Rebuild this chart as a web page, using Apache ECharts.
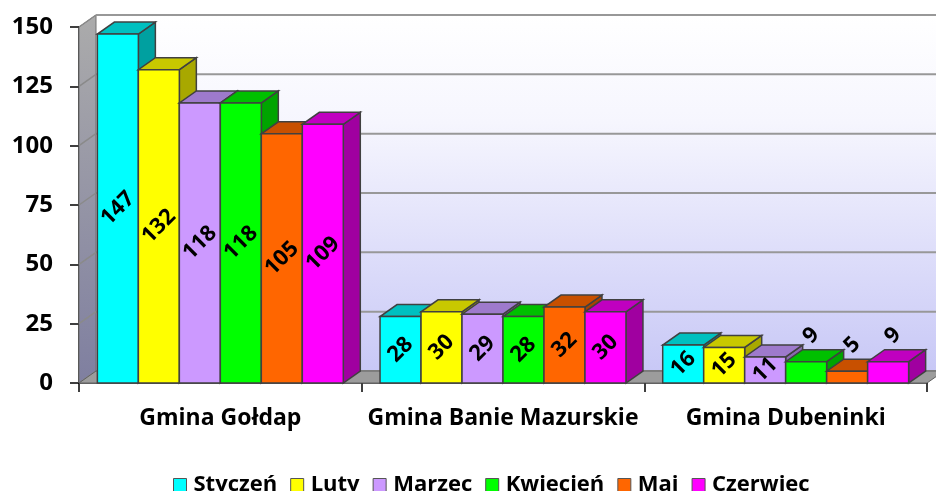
<!DOCTYPE html>
<html>
<head>
<meta charset="utf-8">
<script src="https://cdn.jsdelivr.net/npm/echarts@6/dist/echarts.min.js"></script>
<style>html,body{margin:0;padding:0;background:#fff;}#c{width:936px;height:491px;}</style>
</head>
<body>
<div id="c"></div>
<script>
// ---- data ----
const categories = ['Gmina Gołdap', 'Gmina Banie Mazurskie', 'Gmina Dubeninki'];
const months = ['Styczeń', 'Luty', 'Marzec', 'Kwiecień', 'Maj', 'Czerwiec'];
const styczen  = [147, 28, 16];
const luty     = [132, 30, 15];
const marzec   = [118, 29, 11];
const kwiecien = [118, 28, 9];
const maj      = [105, 32, 5];
const czerwiec = [109, 30, 9];
const yTickValues = [0, 25, 50, 75, 100, 125, 150];

const seriesValues = [styczen, luty, marzec, kwiecien, maj, czerwiec];
const faceColors = [
  {front:'#00FFFF', top:'#00C0C0', side:'#00A0A0'},
  {front:'#FFFF00', top:'#C8C800', side:'#A8A800'},
  {front:'#CC99FF', top:'#9E7ACC', side:'#8A68B0'},
  {front:'#00FF00', top:'#00C000', side:'#00A400'},
  {front:'#FF6600', top:'#C85000', side:'#A84400'},
  {front:'#FF00FF', top:'#C000C0', side:'#A000A0'}
];
const DX = 17, DY = -12;
const EDGE = '#404040';
const FONT = '"Open Sans", Lato, sans-serif';

function frameRender(params, api) {
  const cs = params.coordSys;
  const xL = cs.x, xR = cs.x + cs.width;
  const y0 = api.coord([0, 0])[1];
  const yMax = api.coord([0, yTickValues[yTickValues.length - 1]])[1];
  const children = [];
  children.push({type:'polygon', shape:{points:[[xL+DX,yMax+DY],[xR+DX+40,yMax+DY],[xR+DX+40,y0+DY],[xL+DX,y0+DY]]},
    style:{fill:new echarts.graphic.LinearGradient(0,0,0,1,[{offset:0,color:'#ffffff'},{offset:0.3,color:'#f6f6fe'},{offset:1,color:'#c8c8f6'}])}});
  children.push({type:'polygon', shape:{points:[[xL,yMax],[xL+DX,yMax+DY],[xL+DX,y0+DY],[xL,y0]]},
    style:{fill:new echarts.graphic.LinearGradient(0,0,0,1,[{offset:0,color:'#ababab'},{offset:1,color:'#7f7fa0'}]), stroke:'#707070', lineWidth:1}});
  yTickValues.forEach(v => {
    const y = api.coord([0, v])[1];
    children.push({type:'line', shape:{x1:xL+DX, y1:y+DY, x2:xR+DX+40, y2:y+DY}, style:{stroke:'#989898', lineWidth:2}});
    children.push({type:'line', shape:{x1:xL, y1:y, x2:xL+DX, y2:y+DY}, style:{stroke:'#8a8a8a', lineWidth:1.5}});
  });
  children.push({type:'polygon', shape:{points:[[xL,y0],[xL+DX,y0+DY],[xR+DX,y0+DY],[xR,y0]]},
    style:{fill:'#9c9c9c', stroke:'#606060', lineWidth:1}});
  return {type:'group', children};
}

function makeBarRender(s) {
  return function(params, api) {
    const ci = api.value(0), v = api.value(1);
    const base = api.coord([ci, 0]);
    const top = api.coord([ci, v]);
    const catW = api.size([1, 0])[0];
    const bw = catW * 0.87 / 6;
    const x0 = base[0] + (s - 3) * bw, x1 = x0 + bw;
    const yb = base[1], yt = top[1];
    const c = faceColors[s];
    const children = [
      {type:'polygon', shape:{points:[[x1,yt],[x1+DX,yt+DY],[x1+DX,yb+DY],[x1,yb]]}, style:{fill:c.side, stroke:EDGE, lineWidth:1.5}},
      {type:'polygon', shape:{points:[[x0,yt],[x1,yt],[x1+DX,yt+DY],[x0+DX,yt+DY]]}, style:{fill:c.top, stroke:EDGE, lineWidth:1.5}},
      {type:'rect', shape:{x:x0, y:yt, width:bw, height:yb-yt}, style:{fill:c.front, stroke:EDGE, lineWidth:1.5}}
    ];
    let lx = (x0 + x1) / 2, ly = (yt + yb) / 2;
    if (v < 10) { lx += 5; ly = yt - 26; }
    children.push({type:'text', x:lx, y:ly, rotation:Math.PI/4, z2:100,
      style:{text:String(v), font:'bold 22px ' + FONT, fill:'#000', align:'center', verticalAlign:'middle'}});
    return {type:'group', children};
  };
}

const series = [{
  type:'custom', name:'frame', silent:true, z:1,
  renderItem: frameRender, data:[[0, 0]]
}];
months.forEach((m, s) => {
  series.push({
    type:'custom', name:m, z:2, silent:true,
    itemStyle:{color:faceColors[s].front, borderColor:'#505050', borderWidth:1},
    renderItem: makeBarRender(s),
    data: seriesValues[s].map((v, i) => [i, v])
  });
});

const chart = echarts.init(document.getElementById('c'), null, {renderer:'canvas'});
chart.setOption({
  animation:false,
  backgroundColor:'#ffffff',
  grid:{left:79, right:9, top:27, bottom:108, containLabel:false},
  xAxis:{type:'category', data:categories,
    axisLine:{show:true, lineStyle:{color:'#303030', width:1.5}},
    axisTick:{show:true, length:9, lineStyle:{color:'#000', width:1.5}},
    axisLabel:{interval:0, hideOverlap:false, color:'#000', fontSize:23, fontWeight:'bold', fontFamily:FONT, margin:24},
    splitLine:{show:false}},
  yAxis:{type:'value', min:0, max:150, interval:25,
    axisLine:{show:true, lineStyle:{color:'#000', width:1.5}},
    axisTick:{show:true, length:9, lineStyle:{color:'#000', width:1.5}},
    axisLabel:{color:'#000', fontSize:24, fontWeight:'bold', fontFamily:FONT, margin:26},
    splitLine:{show:false}},
  legend:{data:months, left:168, top:469, icon:'rect', itemWidth:13, itemHeight:13, itemGap:13,
    itemStyle:{borderColor:'#555', borderWidth:1},
    textStyle:{color:'#000', fontSize:22, fontWeight:'bold', fontFamily:FONT, padding:[0,0,0,2]}},
  series
});
</script>
</body>
</html>
